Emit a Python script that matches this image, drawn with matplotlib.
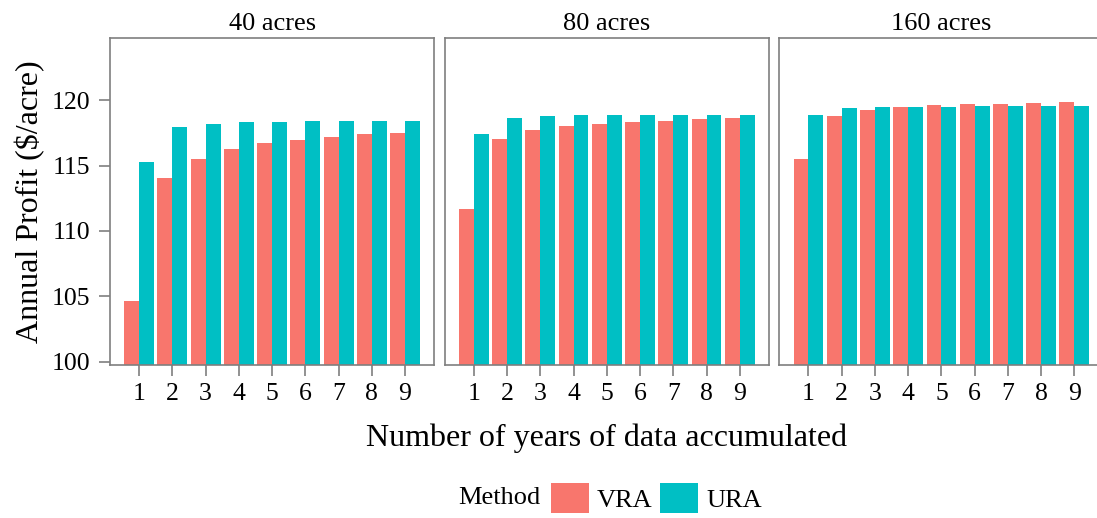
import numpy as np
import matplotlib.pyplot as plt
from matplotlib.patches import Patch

plt.rcParams['font.family'] = ['Liberation Serif', 'DejaVu Serif']

years = [1, 2, 3, 4, 5, 6, 7, 8, 9]
fields = ["40 acres", "80 acres", "160 acres"]
methods = ["VRA", "URA"]
colors = {"VRA": "#F8766D", "URA": "#00BFC4"}

vra_40 = [104.64, 114.06, 115.51, 116.28, 116.73, 116.96, 117.19, 117.42, 117.50]
ura_40 = [115.28, 117.96, 118.19, 118.34, 118.34, 118.42, 118.42, 118.42, 118.42]
vra_80 = [111.68, 117.04, 117.73, 118.04, 118.19, 118.34, 118.42, 118.57, 118.65]
ura_80 = [117.42, 118.65, 118.80, 118.88, 118.88, 118.88, 118.88, 118.88, 118.88]
vra_160 = [115.51, 118.80, 119.26, 119.49, 119.64, 119.72, 119.72, 119.80, 119.87]
ura_160 = [118.88, 119.41, 119.49, 119.49, 119.49, 119.57, 119.57, 119.57, 119.57]

data = {
    "40 acres": {"VRA": vra_40, "URA": ura_40},
    "80 acres": {"VRA": vra_80, "URA": ura_80},
    "160 acres": {"VRA": vra_160, "URA": ura_160},
}

W, H = 1097, 518
fig = plt.figure(figsize=(W / 100, H / 100), dpi=100)

grey = "#7f7f7f"
lefts = [110, 444.7, 779.4]
pw = 324.3
top, bottom = 38, 365
bw = 0.45

x = np.array(years)
for i, f in enumerate(fields):
    ax = fig.add_axes([lefts[i] / W, 1 - bottom / H, pw / W, (bottom - top) / H])
    ax.bar(x - bw / 2, data[f]["VRA"], width=bw, color=colors["VRA"])
    ax.bar(x + bw / 2, data[f]["URA"], width=bw, color=colors["URA"])
    ax.set_xlim(0.125, 9.88)
    ax.set_ylim(99.75, 124.75)
    ax.set_xticks(years)
    ax.set_xticklabels([str(y) for y in years])
    for s in ax.spines.values():
        s.set_color(grey)
        s.set_linewidth(1.2)
    ax.tick_params(axis='x', length=8, width=1.2, color=grey, pad=5, labelsize=18.5)
    if i == 0:
        ax.set_yticks([100, 105, 110, 115, 120])
        ax.tick_params(axis='y', length=8, width=1.2, color=grey, pad=6, labelsize=18.5)
    else:
        ax.set_yticks([])
    ax.set_title(f, fontsize=19, pad=6)

fig.text(30 / W, 1 - 202 / H, "Annual Profit ($/acre)", rotation=90,
         ha='center', va='center', fontsize=23)
fig.text(607 / W, 1 - 438 / H, "Number of years of data accumulated",
         ha='center', va='center', fontsize=23)

fig.text(499 / W, 1 - 498 / H, "Method", ha='center', va='center', fontsize=19)
handles = [Patch(facecolor=colors[m], label=m) for m in methods]
fig.legend(handles=handles, loc='center left', bbox_to_anchor=(551 / W, 1 - 498 / H),
           ncol=2, frameon=False, fontsize=19, handlelength=1.44, handleheight=1.4,
           handletextpad=0.3, columnspacing=0.3, borderpad=0, borderaxespad=0)

fig.savefig("out.png", dpi=100)
